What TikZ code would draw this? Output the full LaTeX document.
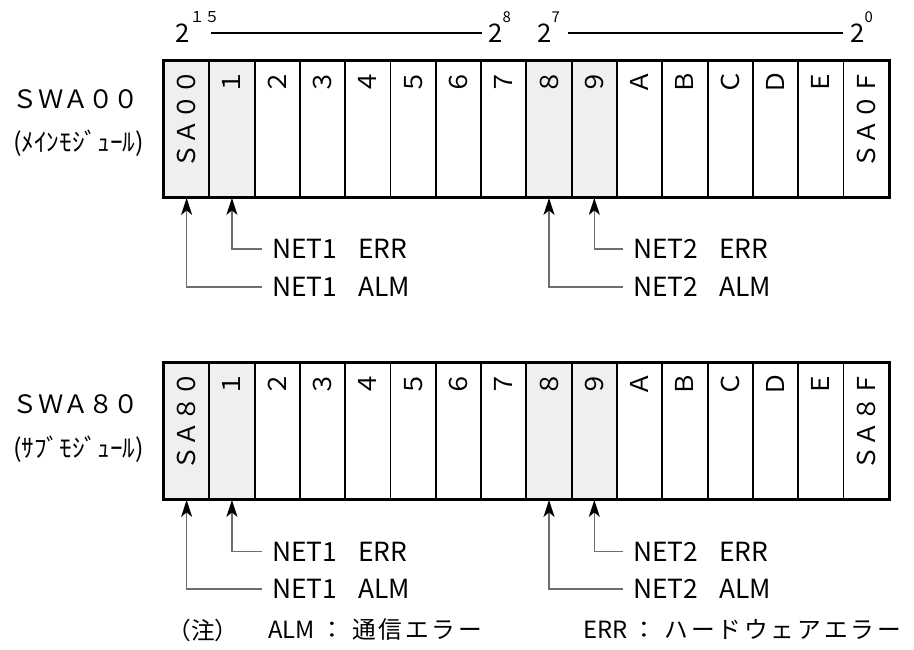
\documentclass[tikz,border=0pt]{standalone}
\usepackage{fontspec}
\setmainfont{Noto Sans CJK JP}
\newfontfamily\notejp[LetterSpace=12]{Noto Sans CJK JP}
\usepackage{tikz}
\usetikzlibrary{positioning,arrows.meta}

\definecolor{bitgray}{HTML}{EFEFEF}
\definecolor{leadgray}{HTML}{6E6E6E}
\newcommand\bitsup[1]{\raisebox{0.4cm}{\fontsize{8.5}{9}\selectfont #1}}

\begin{document}
\begin{tikzpicture}[
  cell/.style={draw, line width=1.1pt, minimum width=0.906cm,
    minimum height=2.72cm, inner sep=0pt, anchor=north west},
  frame/.style={line width=1.5pt},
  bitlab/.style={font=\fontsize{14}{14}\selectfont, rotate=90,
    anchor=east, inner sep=0pt},
  modname/.style={font=\fontsize{14.4}{16}\selectfont, inner sep=0pt},
  hdr/.style={font=\fontsize{14.6}{16}\selectfont, anchor=base west,
    inner sep=0pt},
  rule/.style={line width=1.1pt},
  sig/.style={font=\fontsize{15}{16}\selectfont, anchor=west,
    inner xsep=0.2cm, inner ysep=0pt},
  lead/.style={leadgray, line width=0.8pt,
    -{Stealth[length=3.4mm, width=2.2mm, inset=0.9mm, color=black]}},
  note/.style={font=\fontsize{13.5}{15}\selectfont, anchor=west,
    inner sep=0pt}]
  \useasboundingbox (0, 0) rectangle (18.28, 13);

  % bit weights
  \node[hdr] (p15) at (3.5, 12.14) {2\bitsup{１５}};
  \node[hdr] (p8) at (9.76, 12.14) {2\bitsup{8}};
  \node[hdr] (p7) at (10.74, 12.14) {2\bitsup{7}};
  \node[hdr] (p0) at (17.0, 12.14) {2\bitsup{0}};
  \draw[rule] ([xshift=-0.18cm, yshift=0.2cm]p15.base east)
    -- ([xshift=-0.12cm, yshift=0.2cm]p8.base west);
  \draw[rule] ([xshift=0.16cm, yshift=0.2cm]p7.base east)
    -- ([xshift=-0.14cm, yshift=0.2cm]p0.base west);

  % registers
  \foreach \r/\yt in {a/11.8, b/5.76}
    {
      \foreach \i/\c in {0/bitgray, 1/bitgray, 2/white, 3/white, 4/white,
          5/white, 6/white, 7/white, 8/bitgray, 9/bitgray, 10/white,
          11/white, 12/white, 13/white, 14/white, 15/white}
        \node[cell, fill=\c] (\r\i) at ({3.26+0.906*\i}, \yt) {};
      \foreach \i/\t in {1/１, 2/２, 3/３, 4/４, 5/５, 6/６, 7/７, 8/８,
          9/９, 10/Ａ, 11/Ｂ, 12/Ｃ, 13/Ｄ, 14/Ｅ}
        \node[bitlab] (\r\i-lab) at ([yshift=-0.2cm]\r\i.north) {\t};
      \draw[frame] (\r0.north west) rectangle (\r15.south east);
    }
  \node[bitlab] (a0-lab) at ([yshift=-0.2cm]a0.north) {ＳＡ００};
  \node[bitlab] (a15-lab) at ([yshift=-0.2cm]a15.north) {ＳＡ０Ｆ};
  \node[bitlab] (b0-lab) at ([yshift=-0.2cm]b0.north) {ＳＡ８０};
  \node[bitlab] (b15-lab) at ([yshift=-0.2cm]b15.north) {ＳＡ８Ｆ};

  % module names
  \node[modname] (swa00) at (1.52, 11.02) {ＳＷＡ００};
  \node[modname] (swa00-sub) at (1.57, 10.14) {(ﾒｲﾝﾓｼﾞｭｰﾙ)};
  \node[modname] (swa80) at (1.52, 4.92) {ＳＷＡ８０};
  \node[modname] (swa80-sub) at (1.57, 4.02) {(ｻﾌﾞﾓｼﾞｭｰﾙ)};

  % status bits, main module
  \node[sig] (a-err1) at (5.24, 8.02) {NET1\hspace{0.8em}ERR};
  \node[sig] (a-alm1) at (5.24, 7.26) {NET1\hspace{0.8em}ALM};
  \node[sig] (a-err2) at (12.46, 8.02) {NET2\hspace{0.8em}ERR};
  \node[sig] (a-alm2) at (12.46, 7.26) {NET2\hspace{0.8em}ALM};
  \draw[lead] (a-err1.west) -| (a1.south);
  \draw[lead] (a-alm1.west) -| (a0.south);
  \draw[lead] (a-err2.west) -| (a9.south);
  \draw[lead] (a-alm2.west) -| (a8.south);

  % status bits, sub module
  \node[sig] (b-err1) at (5.24, 1.97) {NET1\hspace{0.8em}ERR};
  \node[sig] (b-alm1) at (5.24, 1.22) {NET1\hspace{0.8em}ALM};
  \node[sig] (b-err2) at (12.46, 1.97) {NET2\hspace{0.8em}ERR};
  \node[sig] (b-alm2) at (12.46, 1.22) {NET2\hspace{0.8em}ALM};
  \draw[lead] (b-err1.west) -| (b1.south);
  \draw[lead] (b-alm1.west) -| (b0.south);
  \draw[lead] (b-err2.west) -| (b9.south);
  \draw[lead] (b-alm2.west) -| (b8.south);

  % note
  \node[note] (note) at (3.34, 0.4) {（注）};
  \node[note] (note-alm) at (5.36, 0.4) {ALM {\notejp ： 通信エラー}};
  \node[note] (note-err) at (11.66, 0.4) {ERR {\notejp ： ハードウェアエラー}};
\end{tikzpicture}
\end{document}
